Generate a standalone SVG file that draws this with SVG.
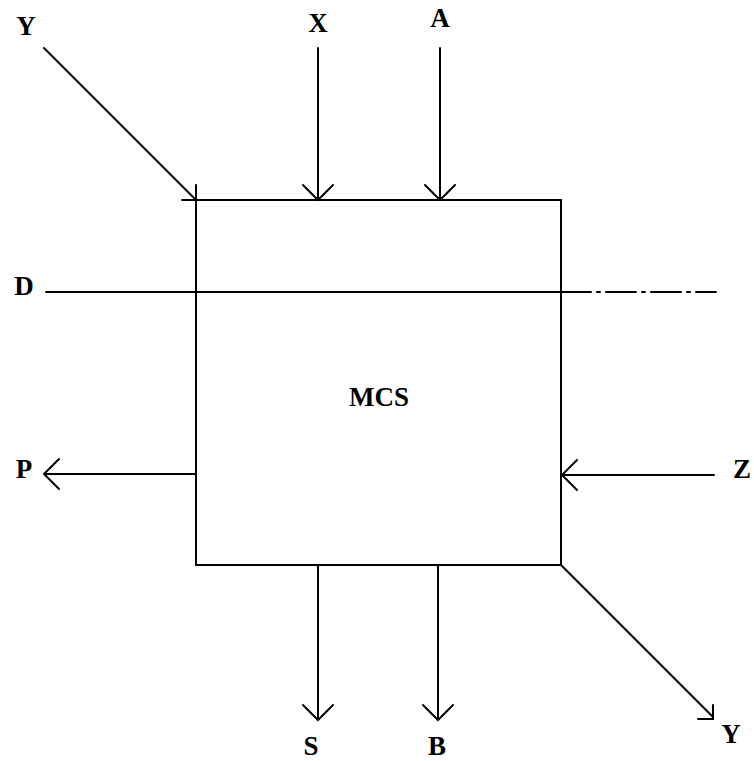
<svg xmlns="http://www.w3.org/2000/svg" width="754" height="761" viewBox="0 0 754 761">
<style>
.l{stroke:#000;stroke-width:2;fill:none;stroke-linecap:round}
.t{font-family:"Liberation Serif","Times New Roman",serif;font-weight:bold;font-size:27px;fill:#000;text-anchor:middle}
</style>
<rect width="754" height="761" fill="#fff"/>
<g id="MCS">
<path class="l" d="M182 200 H561 V565 H196 V185"/>
<text class="t" x="379" y="406" font-size="26">MCS</text>
</g>
<g id="connectors">
<g id="Y-in"><path class="l" d="M44 48 L196 200"/><text class="t" x="26" y="35">Y</text></g>
<g id="X-in"><path class="l" d="M318 48 V200 M303 185 L318 200 L333 185"/><text class="t" x="318" y="32">X</text></g>
<g id="A-in"><path class="l" d="M440 48 V200 M425 185 L440 200 L455 185"/><text class="t" x="440" y="27">A</text></g>
<g id="D-line"><path class="l" d="M46 292 H561"/><path class="l" d="M561 292 H716" stroke-dasharray="30 6 3 6"/><text class="t" x="24" y="295">D</text></g>
<g id="P-out"><path class="l" d="M196 474 H44 M59 459 L44 474 L59 489"/><text class="t" x="24" y="478">P</text></g>
<g id="Z-in"><path class="l" d="M714 475 H562 M577 460 L562 475 L577 490"/><text class="t" x="742" y="478">Z</text></g>
<g id="S-out"><path class="l" d="M318 565 V720 M303 705 L318 720 L333 705"/><text class="t" x="311" y="755">S</text></g>
<g id="B-out"><path class="l" d="M438 565 V720 M423 705 L438 720 L453 705"/><text class="t" x="437" y="755">B</text></g>
<g id="Y-out"><path class="l" d="M561 565 L713 717 M698 719 H713 V705"/><text class="t" x="731" y="743">Y</text></g>
</g>
</svg>
